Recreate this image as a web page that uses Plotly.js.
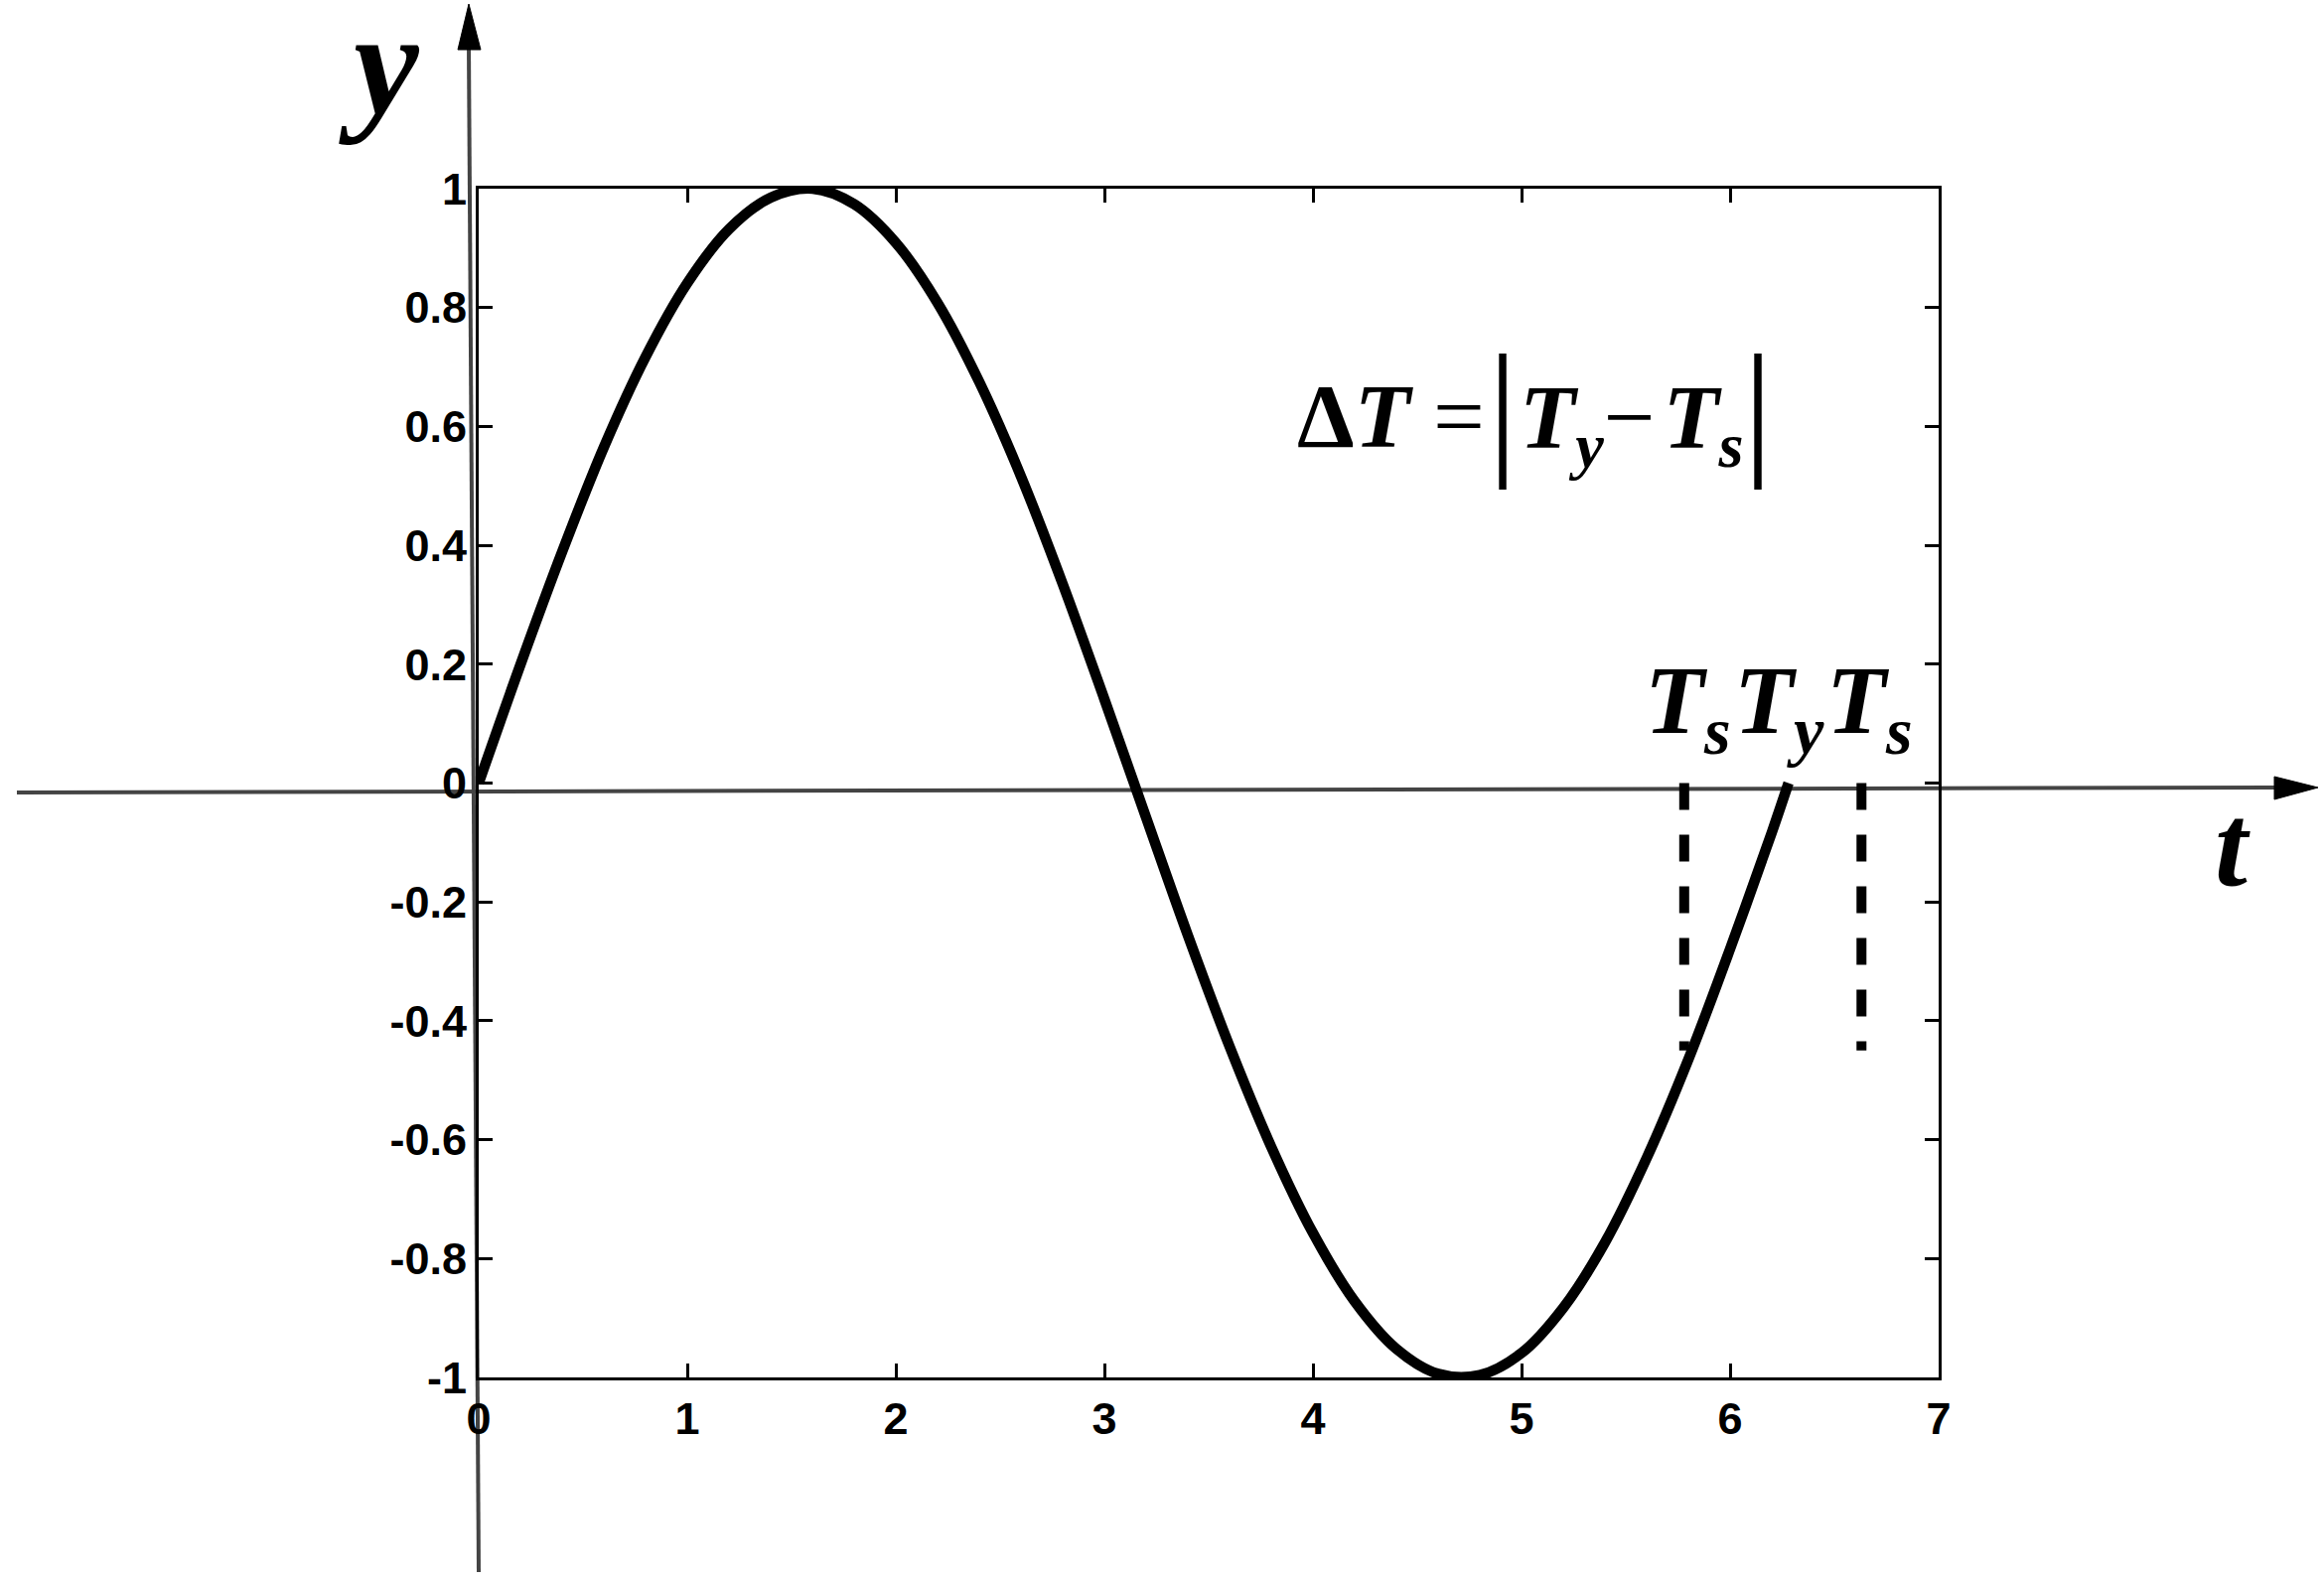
<!DOCTYPE html>
<html><head><meta charset="utf-8">
<script src="https://cdn.plot.ly/plotly-3.0.1.min.js"></script>
<style>html,body{margin:0;padding:0;background:#fff;}</style>
</head><body><div id="chart" style="width:2340px;height:1593px;"></div>
<script>
// ---- data ----
const curveT = [0, 0.2, 0.4, 0.6, 0.8, 1.0, 1.2, 1.4, 1.6, 1.8, 2.0, 2.2, 2.4, 2.6, 2.8, 3.0, 3.2, 3.4, 3.6, 3.8, 4.0, 4.2, 4.4, 4.6, 4.8, 5.0, 5.2, 5.4, 5.6, 5.8, 6.0, 6.2, 6.28];
const curveY = [0.000, 0.199, 0.389, 0.565, 0.717, 0.841, 0.932, 0.985, 1.000, 0.974, 0.909, 0.808, 0.675, 0.516, 0.335, 0.141, -0.058, -0.256, -0.443, -0.612, -0.757, -0.872, -0.952, -0.994, -0.996, -0.959, -0.883, -0.773, -0.631, -0.465, -0.279, -0.083, 0.000];
const xTickVals = [0, 1, 2, 3, 4, 5, 6, 7];
const xTickText = ['0', '1', '2', '3', '4', '5', '6', '7'];
const yTickVals = [-1, -0.8, -0.6, -0.4, -0.2, 0, 0.2, 0.4, 0.6, 0.8, 1];
const yTickText = ['-1', '-0.8', '-0.6', '-0.4', '-0.2', '0', '0.2', '0.4', '0.6', '0.8', '1'];
const markTimes = [5.78, 6.63];      // the two T_s dashed markers
const markRange = [0, -0.45];        // dashed markers run from y=0 down to here
const crossTime = 6.28;              // T_y, where the curve crosses zero
const markLabels = ['<b><i>T</i><sub><i>s</i></sub></b>', '<b><i>T</i><sub><i>y</i></sub></b>', '<b><i>T</i><sub><i>s</i></sub></b>'];

// ---- geometry helpers (pixel -> paper) ----
const L = 482, R = 1952, TOP = 190, B = 1387;
const px = x => (x - L) / (R - L);
const py = y => (B - y) / (B - TOP);

const traces = [
  {x: curveT, y: curveY, type: 'scatter', mode: 'lines',
   line: {color: '#000', width: 10.5, shape: 'spline', smoothing: 1, simplify: false}, hoverinfo: 'skip'}
];
markTimes.forEach(t => traces.push({
  x: [t, t], y: markRange, type: 'scatter', mode: 'lines',
  line: {color: '#000', width: 10, dash: '27px,25px'}, hoverinfo: 'skip'
}));

const serif = 'Liberation Serif, Times New Roman, serif';
const annotations = [
  {xref: 'paper', yref: 'paper', x: px(382), y: py(64), text: '<b><i>y</i></b>', showarrow: false,
   font: {family: serif, size: 148, color: '#000'}, xanchor: 'center', yanchor: 'middle'},
  {xref: 'paper', yref: 'paper', x: px(2248), y: py(852), text: '<b><i>t</i></b>', showarrow: false,
   font: {family: serif, size: 118, color: '#000'}, xanchor: 'center', yanchor: 'middle'},
  // T_s, T_y, T_s labels above the markers
  {xref: 'x', yref: 'paper', x: markTimes[0], xshift: 4, y: py(712), text: markLabels[0], showarrow: false,
   font: {family: serif, size: 98, color: '#000'}, xanchor: 'center', yanchor: 'middle'},
  {xref: 'x', yref: 'paper', x: crossTime, xshift: -9, y: py(712), text: markLabels[1], showarrow: false,
   font: {family: serif, size: 98, color: '#000'}, xanchor: 'center', yanchor: 'middle'},
  {xref: 'x', yref: 'paper', x: markTimes[1], xshift: 8, y: py(712), text: markLabels[2], showarrow: false,
   font: {family: serif, size: 98, color: '#000'}, xanchor: 'center', yanchor: 'middle'},
  // formula
  {xref: 'paper', yref: 'paper', x: px(1304), y: py(419), text: '<b>Δ<i>T</i></b> =', showarrow: false,
   font: {family: serif, size: 92, color: '#000'}, xanchor: 'left', yanchor: 'middle'},
  {xref: 'paper', yref: 'paper', x: px(1513), y: py(410), text: '|', showarrow: false,
   font: {family: serif, size: 150, color: '#000'}, xanchor: 'center', yanchor: 'middle'},
  {xref: 'paper', yref: 'paper', x: px(1528), y: py(426), text: '<b><i>T</i><sub><i>y</i></sub></b>−\u200A<b><i>T</i><sub><i>s</i></sub></b>', showarrow: false,
   font: {family: serif, size: 92, color: '#000'}, xanchor: 'left', yanchor: 'middle'},
  {xref: 'paper', yref: 'paper', x: px(1770), y: py(410), text: '|', showarrow: false,
   font: {family: serif, size: 150, color: '#000'}, xanchor: 'center', yanchor: 'middle'}
];

const axisCol = '#444';
const shapes = [
  {type: 'line', xref: 'paper', yref: 'paper', x0: px(472), y0: py(46), x1: px(482), y1: py(1583),
   line: {color: axisCol, width: 4}, layer: 'below'},
  {type: 'path', xref: 'paper', yref: 'paper',
   path: `M ${px(472)},${py(4)} L ${px(461)},${py(50)} L ${px(484)},${py(50)} Z`,
   fillcolor: '#000', line: {color: '#000', width: 1}},
  {type: 'line', xref: 'paper', yref: 'paper', x0: px(17), y0: py(798), x1: px(2292), y1: py(793),
   line: {color: axisCol, width: 4}, layer: 'below'},
  {type: 'path', xref: 'paper', yref: 'paper',
   path: `M ${px(2334)},${py(793)} L ${px(2290)},${py(782)} L ${px(2290)},${py(805)} Z`,
   fillcolor: '#000', line: {color: '#000', width: 1}}
];

const tickFont = {family: 'Liberation Sans, Arial, sans-serif', size: 45, color: '#000', weight: 'bold'};
const layout = {
  width: 2340, height: 1593,
  margin: {l: L, r: 2340 - R, t: TOP, b: 1593 - B, pad: 0},
  paper_bgcolor: '#fff', plot_bgcolor: 'rgba(0,0,0,0)',
  showlegend: false,
  xaxis: {range: [0, 7], tickvals: xTickVals, ticktext: xTickText, ticks: 'inside', ticklen: 14, tickwidth: 3,
          tickcolor: '#000', showline: true, linecolor: '#000', linewidth: 3, mirror: 'ticks',
          showgrid: false, zeroline: false, tickfont: tickFont, automargin: false, fixedrange: true},
  yaxis: {range: [-1, 1], tickvals: yTickVals, ticktext: yTickText, ticks: 'inside', ticklen: 14, tickwidth: 3,
          tickcolor: '#000', showline: true, linecolor: '#000', linewidth: 3, mirror: 'ticks',
          showgrid: false, zeroline: false, tickfont: tickFont, automargin: false, fixedrange: true},
  annotations: annotations,
  shapes: shapes
};
Plotly.newPlot('chart', traces, layout, {displayModeBar: false, staticPlot: true});
</script></body></html>
